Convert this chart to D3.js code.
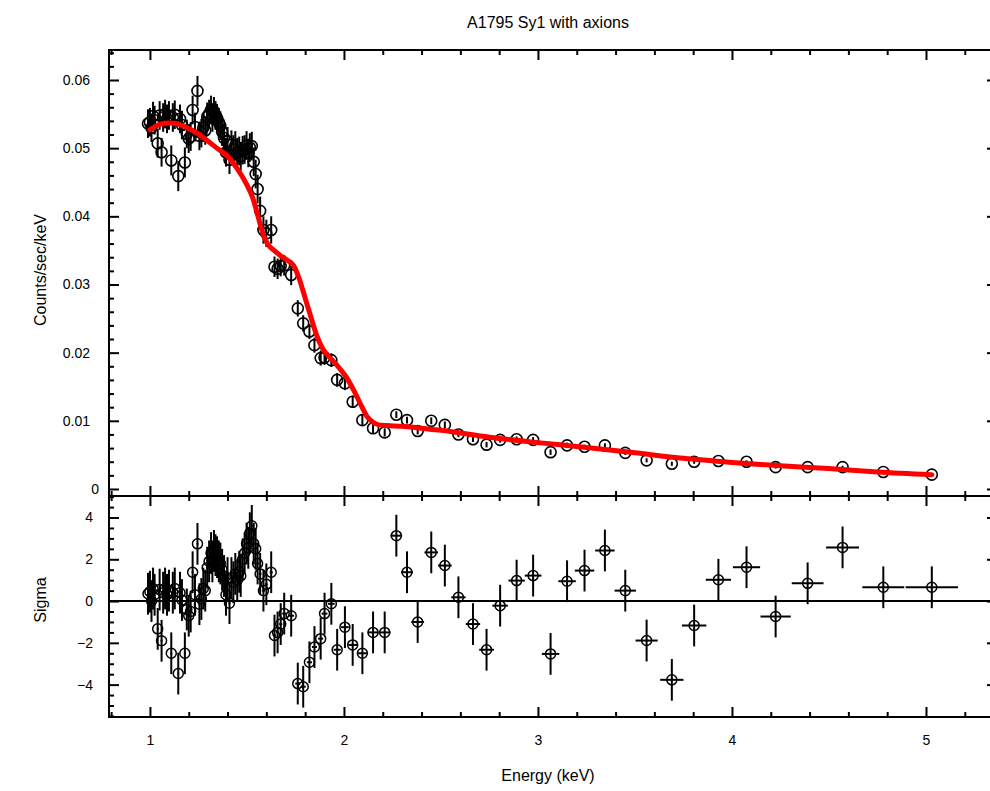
<!DOCTYPE html>
<html><head><meta charset="utf-8">
<script src="https://cdn.jsdelivr.net/npm/d3@7/dist/d3.min.js"></script>
<style>html,body{margin:0;padding:0;background:#fff;overflow:hidden}svg{display:block}</style>
</head><body>
<svg id="chart" width="990" height="791"></svg>
<script>
// ---------------- data ----------------
const title = "A1795 Sy1 with axions";
const xLabel = "Energy (keV)";
const yLabelTop = "Counts/sec/keV";
const yLabelBottom = "Sigma";

const energy = [
  0.990,1.000,1.008,1.016,1.024, 1.040,1.050,1.060,1.068,1.078,
  1.088,1.098,1.110,1.118,1.128, 1.146,1.155,1.165,1.180,1.190,
  1.200,1.210,1.220,1.232,1.245, 1.255,1.265,1.275,1.285,1.295,
  1.305,1.315,1.322,1.330,1.338, 1.346,1.355,1.363,1.372,1.382,
  1.392,1.400,1.410,1.420,1.430, 1.440,1.450,1.460,1.468,1.478,
  1.488,1.498,1.507,1.515,1.525, 1.535,1.545,1.555,1.568,1.585,
  1.600,1.625,
  1.642,1.658,1.674,1.692,1.728, 1.762,1.790,1.822,1.848,1.880,
  1.900,1.935,1.965,2.005,2.045, 2.095,2.150,2.210,2.270,2.325,
  2.380,2.450,2.520,2.590,2.665, 2.735,2.805,2.890,2.975,3.065,
  3.150,3.240,3.345,3.450,3.560, 3.690,3.805,3.930,4.075,4.225,
  4.390,4.570,4.780,5.030
];
const energyHalfWidth = [
  0.005,0.005,0.005,0.005,0.005, 0.005,0.005,0.005,0.005,0.005,
  0.005,0.005,0.005,0.005,0.005, 0.005,0.005,0.005,0.005,0.005,
  0.005,0.005,0.005,0.005,0.005, 0.005,0.005,0.005,0.005,0.005,
  0.005,0.005,0.005,0.005,0.005, 0.005,0.005,0.005,0.005,0.005,
  0.005,0.005,0.005,0.005,0.005, 0.005,0.005,0.005,0.005,0.005,
  0.005,0.005,0.005,0.005,0.005, 0.005,0.005,0.006,0.007,0.008,
  0.008,0.008,
  0.008,0.008,0.008,0.010,0.015, 0.013,0.013,0.013,0.013,0.013,
  0.015,0.017,0.018,0.020,0.022, 0.025,0.028,0.030,0.030,0.030,
  0.033,0.035,0.035,0.037,0.037, 0.038,0.040,0.042,0.043,0.045,
  0.045,0.050,0.050,0.055,0.057, 0.060,0.063,0.065,0.070,0.078,
  0.082,0.085,0.108,0.135
];
const rate = [
  0.0536,0.0538,0.0530,0.0547,0.0541, 0.0507,0.0548,0.0494,0.0545,0.0550,
  0.0543,0.0548,0.0482,0.0545,0.0549, 0.0459,0.0543,0.0534,0.0479,0.0521,
  0.0514,0.0517,0.0556,0.0531,0.0584, 0.0518,0.0522,0.0530,0.0526,0.0546,
  0.0550,0.0556,0.0545,0.0554,0.0548, 0.0544,0.0538,0.0533,0.0524,0.0515,
  0.0494,0.0510,0.0483,0.0505,0.0498, 0.0504,0.0494,0.0496,0.0488,0.0497,
  0.0498,0.0504,0.0493,0.0501,0.0503, 0.0480,0.0462,0.0440,0.0408,0.0380,
  0.0375,0.0380,
  0.0326,0.0323,0.0327,0.0328,0.0314, 0.0265,0.0243,0.0231,0.0211,0.0192,
  0.0193,0.0189,0.0160,0.0155,0.0128, 0.0101,0.0089,0.0083,0.0109,0.0101,
  0.0085,0.0100,0.0094,0.0080,0.0073, 0.0065,0.0072,0.0073,0.0072,0.0054,
  0.0064,0.0062,0.0064,0.0053,0.0042, 0.0037,0.0040,0.0041,0.0040,0.0032,
  0.0032,0.0032,0.0025,0.0021
];
const rateErr = [
  0.0021,0.0021,0.0021,0.0021,0.0021, 0.0021,0.0021,0.0021,0.0021,0.0021,
  0.0021,0.0021,0.0022,0.0021,0.0021, 0.0022,0.0021,0.0021,0.0022,0.0021,
  0.0021,0.0021,0.0021,0.0021,0.0022, 0.0021,0.0021,0.0021,0.0021,0.0021,
  0.0021,0.0021,0.0021,0.0021,0.0021, 0.0021,0.0021,0.0021,0.0021,0.0021,
  0.0021,0.0021,0.0021,0.0021,0.0021, 0.0021,0.0021,0.0021,0.0021,0.0021,
  0.0021,0.0021,0.0021,0.0021,0.0021, 0.0021,0.0021,0.0021,0.0021,0.0020,
  0.0020,0.0020,
  0.0015,0.0015,0.0015,0.0015,0.0015, 0.0012,0.0012,0.0011,0.0011,0.0011,
  0.0011,0.0010,0.0010,0.0010,0.0009, 0.0008,0.0007,0.0006,0.0005,0.0005,
  0.0005,0.0005,0.0005,0.0004,0.0004, 0.0004,0.0004,0.0004,0.0004,0.0004,
  0.0004,0.0003,0.0003,0.0003,0.0003, 0.0003,0.0003,0.0003,0.0002,0.0002,
  0.0002,0.0002,0.0002,0.00015
];
const sigma = [
  0.35,0.45,0.0,0.6,0.3, -1.33,0.55,-1.9,0.4,0.6,
  0.3,0.5,-2.5,0.4,0.6, -3.47,0.4,0.05,-2.5,-0.4,
  -0.7,-0.5,1.38,0.3,2.74, -0.15,0.1,0.6,0.5,1.6,
  1.9,2.3,1.9,2.4,2.2, 2.1,1.9,1.8,1.5,1.2,
  0.3,1.1,-0.1,1.1,0.9, 1.3,1.0,1.4,1.2,2.0,
  2.3,2.75,2.55,3.25,3.6, 2.75,2.5,1.8,1.3,0.5,
  0.8,1.38,
  -1.65,-1.5,-1.1,-0.6,-0.7, -3.95,-4.1,-2.93,-2.2,-1.8,
  -0.6,-0.13,-2.33,-1.25,-2.1, -2.5,-1.5,-1.5,3.13,1.38,
  -1.0,2.33,1.7,0.18,-1.1, -2.33,-0.22,0.98,1.22,-2.53,
  0.95,1.46,2.42,0.5,-1.89, -3.77,-1.17,1.02,1.62,-0.74,
  0.85,2.57,0.66,0.66
];

const modelEnergy = [
  1.00,1.05,1.10,1.15,1.20,1.25,1.30,1.35,1.40,1.45,
  1.50,1.53,1.56,1.585,1.61,1.64,1.67,1.70,1.74,1.77,
  1.80,1.83,1.86,1.89,1.92,1.95,1.98,2.01,2.05,2.09,
  2.12,2.15,2.18,2.22,2.30,2.40,2.50,2.75,3.00,3.25,
  3.50,3.75,4.00,4.25,4.50,4.75,5.03
];
const modelRate = [
  0.0527,0.0535,0.0537,0.0535,0.0529,0.0521,0.0510,0.0499,0.0488,0.0470,
  0.0446,0.0427,0.0397,0.0372,0.0358,0.0350,0.0343,0.0337,0.0328,0.0308,
  0.0280,0.0252,0.0225,0.0206,0.0195,0.0186,0.0176,0.0165,0.0145,0.0122,
  0.0106,0.0098,0.0094,0.0093,0.0092,0.0089,0.0086,0.0076,0.0068,0.0061,
  0.0053,0.0045,0.0039,0.0034,0.0030,0.0025,0.0021
];

const xTicks = [1,2,3,4,5];
const xTickLabels = ["1","2","3","4","5"];
const yTicksTop = [0,0.01,0.02,0.03,0.04,0.05,0.06];
const yTickLabelsTop = ["0","0.01","0.02","0.03","0.04","0.05","0.06"];
const yTicksBottom = [-4,-2,0,2,4];
const yTickLabelsBottom = ["\u22124","\u22122","0","2","4"];

// ---------------- layout ----------------
const FONT = "'Liberation Sans', Arial, Helvetica, sans-serif";
const L = 109, R = 997, T1 = 50, B1 = 496, T2 = 496, B2 = 717;
const svg = d3.select("#chart");
svg.append("rect").attr("width",990).attr("height",791).attr("fill","#fff");

const x = d3.scaleLinear().domain([0.789, 5.366]).range([L, R]);
const yTop = d3.scaleLinear().domain([-0.00103, 0.0644]).range([B1, T1]);
const yBot = d3.scaleLinear().domain([-5.55, 5.03]).range([B2, T2]);

const xMinor = d3.range(0.8, 5.41, 0.2).filter(v => Math.abs(v - Math.round(v)) > 1e-6);
const yMinorTop = d3.range(0, 0.0645, 0.002).filter(v => Math.abs(v*100 - Math.round(v*100)) > 1e-6);
const yMinorBot = d3.range(-5.5, 5.01, 0.5).filter(v => Math.abs(v/2 - Math.round(v/2)) > 1e-6);

function axis(gen, tx, ty, values, size, labels, pad) {
  const a = gen.tickValues(values).tickSizeInner(size).tickSizeOuter(0).tickPadding(pad || 8);
  a.tickFormat(labels ? ((d, i) => labels[i]) : (() => ""));
  const g = svg.append("g").attr("transform", `translate(${tx},${ty})`).call(a);
  g.select(".domain").remove();
  g.selectAll("line").attr("stroke", "#000").attr("stroke-width", 2);
  g.selectAll("text").attr("font-family", FONT).attr("font-size", 14).attr("fill", "#000");
  return g;
}

// ticks, top panel
const gyTop = axis(d3.axisLeft(yTop), L, 0, yTicksTop, -10, yTickLabelsTop, 19);
// the "0" label of the count-rate axis sits closer to the axis, as in the original
gyTop.selectAll(".tick").filter(d => d === 0).select("text").attr("x", -10);
axis(d3.axisLeft(yTop), L, 0, yMinorTop, -5);
axis(d3.axisRight(yTop), R, 0, yTicksTop, -10);
axis(d3.axisRight(yTop), R, 0, yMinorTop, -5);
axis(d3.axisTop(x), 0, T1, xTicks, -10);
axis(d3.axisTop(x), 0, T1, xMinor, -5);
axis(d3.axisBottom(x), 0, B1, xTicks, -10);
axis(d3.axisBottom(x), 0, B1, xMinor, -5);
// ticks, bottom panel
axis(d3.axisLeft(yBot), L, 0, yTicksBottom, -10, yTickLabelsBottom, 16);
axis(d3.axisLeft(yBot), L, 0, yMinorBot, -5);
axis(d3.axisRight(yBot), R, 0, yTicksBottom, -10);
axis(d3.axisRight(yBot), R, 0, yMinorBot, -5);
axis(d3.axisTop(x), 0, T2, xTicks, -10);
axis(d3.axisTop(x), 0, T2, xMinor, -5);
axis(d3.axisBottom(x), 0, B2, xTicks, -10, xTickLabels, 18);
axis(d3.axisBottom(x), 0, B2, xMinor, -5);

// frames
svg.append("rect").attr("x", L).attr("y", T1).attr("width", R - L).attr("height", B1 - T1)
  .attr("fill", "none").attr("stroke", "#000").attr("stroke-width", 2);
svg.append("rect").attr("x", L).attr("y", T2).attr("width", R - L).attr("height", B2 - T2)
  .attr("fill", "none").attr("stroke", "#000").attr("stroke-width", 2);

// zero line in residual panel
svg.append("line").attr("x1", L).attr("x2", R).attr("y1", yBot(0)).attr("y2", yBot(0))
  .attr("stroke", "#000").attr("stroke-width", 2);

const idx = d3.range(energy.length);

// top panel data (vertical error bars + open markers)
const gTop = svg.append("g");
gTop.selectAll("line").data(idx).join("line")
  .attr("x1", i => x(energy[i])).attr("x2", i => x(energy[i]))
  .attr("y1", i => yTop(rate[i] - rateErr[i])).attr("y2", i => yTop(rate[i] + rateErr[i]))
  .attr("stroke", "#000").attr("stroke-width", 2);
gTop.selectAll("circle").data(idx).join("circle")
  .attr("cx", i => x(energy[i])).attr("cy", i => yTop(rate[i])).attr("r", 5.5)
  .attr("fill", "none").attr("stroke", "#000").attr("stroke-width", 1.6);

// model line
const line = d3.line().x(d => x(d[0])).y(d => yTop(d[1])).curve(d3.curveMonotoneX);
svg.append("path").datum(modelEnergy.map((e, i) => [e, modelRate[i]]))
  .attr("d", line).attr("fill", "none").attr("stroke", "#ff0000").attr("stroke-width", 5)
  .attr("stroke-linecap", "round").attr("stroke-linejoin", "round");

// residual panel
const gBot = svg.append("g");
gBot.selectAll("line.v").data(idx).join("line").attr("class", "v")
  .attr("x1", i => x(energy[i])).attr("x2", i => x(energy[i]))
  .attr("y1", i => yBot(sigma[i] - 1)).attr("y2", i => yBot(sigma[i] + 1))
  .attr("stroke", "#000").attr("stroke-width", 2);
gBot.selectAll("line.h").data(idx).join("line").attr("class", "h")
  .attr("x1", i => x(energy[i] - energyHalfWidth[i])).attr("x2", i => x(energy[i] + energyHalfWidth[i]))
  .attr("y1", i => yBot(sigma[i])).attr("y2", i => yBot(sigma[i]))
  .attr("stroke", "#000").attr("stroke-width", 2);
gBot.selectAll("circle").data(idx).join("circle")
  .attr("cx", i => x(energy[i])).attr("cy", i => yBot(sigma[i])).attr("r", 5)
  .attr("fill", "none").attr("stroke", "#000").attr("stroke-width", 1.5);

// texts
svg.append("text").attr("x", 548).attr("y", 28).attr("text-anchor", "middle")
  .attr("font-family", FONT).attr("font-size", 16).text(title);
svg.append("text").attr("x", 548).attr("y", 781).attr("text-anchor", "middle")
  .attr("font-family", FONT).attr("font-size", 16).text(xLabel);
svg.append("text").attr("transform", "translate(46,270) rotate(-90)").attr("text-anchor", "middle")
  .attr("font-family", FONT).attr("font-size", 16).text(yLabelTop);
svg.append("text").attr("transform", "translate(46,600) rotate(-90)").attr("text-anchor", "middle")
  .attr("font-family", FONT).attr("font-size", 16).text(yLabelBottom);
</script>
</body></html>
